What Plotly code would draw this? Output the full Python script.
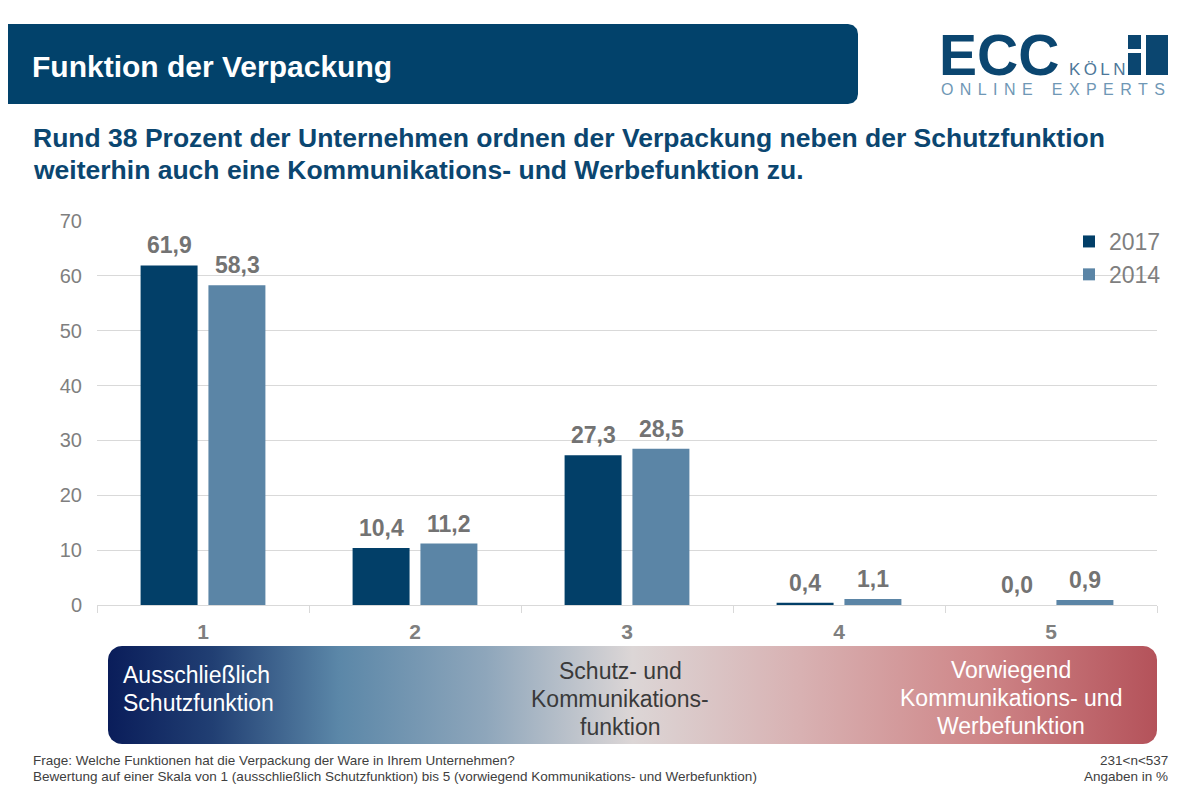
import numpy as np
import plotly.graph_objects as go

# ---------------- data ----------------
categories = ["1", "2", "3", "4", "5"]
values_2017 = [61.9, 10.4, 27.3, 0.4, 0.0]
values_2014 = [58.3, 11.2, 28.5, 1.1, 0.9]
series_names = ["2017", "2014"]
y_ticks = [0, 10, 20, 30, 40, 50, 60, 70]

title_text = "Funktion der Verpackung"
subtitle_lines = [
    "Rund 38 Prozent der Unternehmen ordnen der Verpackung neben der Schutzfunktion",
    "weiterhin auch eine Kommunikations- und Werbefunktion zu.",
]
scale_left = ["Ausschließlich", "Schutzfunktion"]
scale_mid = ["Schutz- und", "Kommunikations-", "funktion"]
scale_right = ["Vorwiegend", "Kommunikations- und", "Werbefunktion"]
footer_left = [
    "Frage: Welche Funktionen hat die Verpackung der Ware in Ihrem Unternehmen?",
    "Bewertung auf einer Skala von 1 (ausschließlich Schutzfunktion) bis 5 (vorwiegend Kommunikations- und Werbefunktion)",
]
footer_right = ["231<n<537", "Angaben in %"]

# ---------------- style ----------------
W, H = 1183, 795
B = 8  # page body margin offset
FONT = "Liberation Sans, Arial, sans-serif"
C2017 = "#023f68"
C2014 = "#5b85a6"
DARK = "#02426b"
GRAY = "#7f7f7f"
LABEL = "#737373"
GRID = "#d9d9d9"

def fmt(v):
    return f"{v:.1f}".replace(".", ",")

def rounded_rect(x0, y0, x1, y1, r):
    pts = []
    n = 12
    def arc(cx, cy, a0, a1):
        for t in np.linspace(a0, a1, n):
            pts.append((cx + r * np.cos(t), cy + r * np.sin(t)))
    arc(x0 + r, y0 + r, np.pi, 1.5 * np.pi)
    arc(x1 - r, y0 + r, 1.5 * np.pi, 2 * np.pi)
    arc(x1 - r, y1 - r, 0, 0.5 * np.pi)
    arc(x0 + r, y1 - r, 0.5 * np.pi, np.pi)
    pts.append(pts[0])
    xs, ys = zip(*pts)
    return list(xs), list(ys)

fig = go.Figure()

fig.add_trace(go.Bar(
    x=categories, y=values_2017, name=series_names[0],
    marker=dict(color=C2017, line=dict(width=0)),
    legendgroup="a",
))
fig.add_trace(go.Bar(
    x=categories, y=values_2014, name=series_names[1],
    marker=dict(color=C2014, line=dict(width=0)),
    legendgroup="b",
))

# gradient scale bar (page-pixel overlay axes)
gx, gy = rounded_rect(108, 646, 1157, 744, 14)
fig.add_trace(go.Scatter(
    x=gx, y=gy, xaxis="x2", yaxis="y2", mode="lines", fill="toself",
    line=dict(width=0, color="rgba(0,0,0,0)"),
    fillgradient=dict(type="horizontal", colorscale=[
        [0.0, "#0a1d5a"], [0.1, "#213f73"], [0.22, "#5b87a8"], [0.36, "#8ea6bb"],
        [0.5, "#dcd6d6"], [0.66, "#d8b1b2"], [0.83, "#cf8789"], [1.0, "#b4525a"],
    ]),
    showlegend=False, hoverinfo="skip",
))

# title banner
bx, by = rounded_rect(-30, 24, 858, 104, 10)
fig.add_trace(go.Scatter(
    x=bx, y=by, xaxis="x2", yaxis="y2", mode="lines", fill="toself",
    fillcolor=DARK, line=dict(width=0, color=DARK),
    showlegend=False, hoverinfo="skip",
))

annotations = []
# data labels
for vals, shift in ((values_2017, -34), (values_2014, 34)):
    for i, v in enumerate(vals):
        annotations.append(dict(
            x=i, y=v, xref="x", yref="y", text=fmt(v), showarrow=False,
            xshift=shift, yshift=5, yanchor="bottom",
            font=dict(family=FONT, size=23, color=LABEL, weight="bold"),
        ))

def px_text(x, y, text, size, color, xanchor="left", bold=False):
    annotations.append(dict(
        x=x, y=y, xref="x2", yref="y2", text=text, showarrow=False,
        xanchor=xanchor, yanchor="middle",
        font=dict(family=FONT, size=size, color=color, weight="bold" if bold else "normal"),
    ))

px_text(30, 66, title_text, 30, "white", bold=True)
for i, line in enumerate(subtitle_lines):
    px_text(31, 138 + 32 * i, line, 26.5, "#0b4670", bold=True)

for i, line in enumerate(scale_left):
    px_text(121, 675 + 28 * i, line, 23, "white")
for i, line in enumerate(scale_mid):
    px_text(620, 671 + 28 * i, line, 23, "#3a3a3a", xanchor="center")
for i, line in enumerate(scale_right):
    px_text(1011, 670 + 28 * i, line, 23, "white", xanchor="center")

for i, line in enumerate(footer_left):
    px_text(31, 760 + 16 * i, line, 13.5, "#404040")
for i, line in enumerate(footer_right):
    px_text(1170, 760 + 16 * i, line, 13.5, "#404040", xanchor="right")

# logo
px_text(937, 55, "ECC", 57, "#0b4670", bold=True)
px_text(1067, 69, "K\u2009Ö\u2009L\u2009N", 17, "#4d7799")
sp = "\u2009\u2009"
px_text(939, 89, sp.join("ONLINE") + sp * 3 + sp.join("EXPERTS"), 16, "#6f97b5")

shapes = []
for (x0, y0, x1, y1) in [(1128, 35, 1141, 49), (1128, 53, 1141, 75), (1146, 35, 1168, 75)]:
    shapes.append(dict(type="rect", xref="x2", yref="y2", x0=x0, y0=y0, x1=x1, y1=y1,
                       fillcolor="#0b4670", line=dict(width=0)))

fig.update_layout(
    width=W, height=H,
    margin=dict(l=0, r=0, t=0, b=0, pad=0, autoexpand=False),
    paper_bgcolor="white", plot_bgcolor="rgba(0,0,0,0)",
    separators=",.",
    barmode="group", bargap=0.36, bargroupgap=0.16,
    font=dict(family=FONT, color=GRAY),
    showlegend=True,
    legend=dict(
        x=(1069 - B) / W, y=1 - (220 - B) / H, xanchor="left", yanchor="top",
        font=dict(family=FONT, size=23, color=GRAY),
        bgcolor="rgba(0,0,0,0)", tracegroupgap=9, traceorder="normal",
    ),
    xaxis=dict(
        domain=[(97 - B) / W, (1157 - B) / W], type="category", range=[-0.5, 4.5],
        showline=True, linecolor=GRID, linewidth=1, automargin=False,
        ticks="outside", tickson="boundaries", ticklen=7, tickcolor=GRID,
        tickfont=dict(family=FONT, size=21, color=GRAY, weight="bold"),
        ticklabelstandoff=8, showgrid=False, fixedrange=True,
    ),
    yaxis=dict(
        domain=[(H - (605 - B)) / H, (H - (221 - B)) / H], range=[0, 70],
        tickvals=y_ticks, showgrid=True, gridcolor=GRID, gridwidth=1,
        zeroline=False, showline=False, ticks="", automargin=False,
        tickfont=dict(family=FONT, size=20, color=GRAY),
        ticklabelstandoff=14, fixedrange=True,
    ),
    xaxis2=dict(domain=[0, 1], range=[B, W + B], visible=False, anchor="y2",
                fixedrange=True, automargin=False),
    yaxis2=dict(domain=[0, 1], range=[H + B, B], visible=False, anchor="x2",
                fixedrange=True, automargin=False),
    annotations=annotations,
    shapes=shapes,
)

fig.write_html("out.html")
